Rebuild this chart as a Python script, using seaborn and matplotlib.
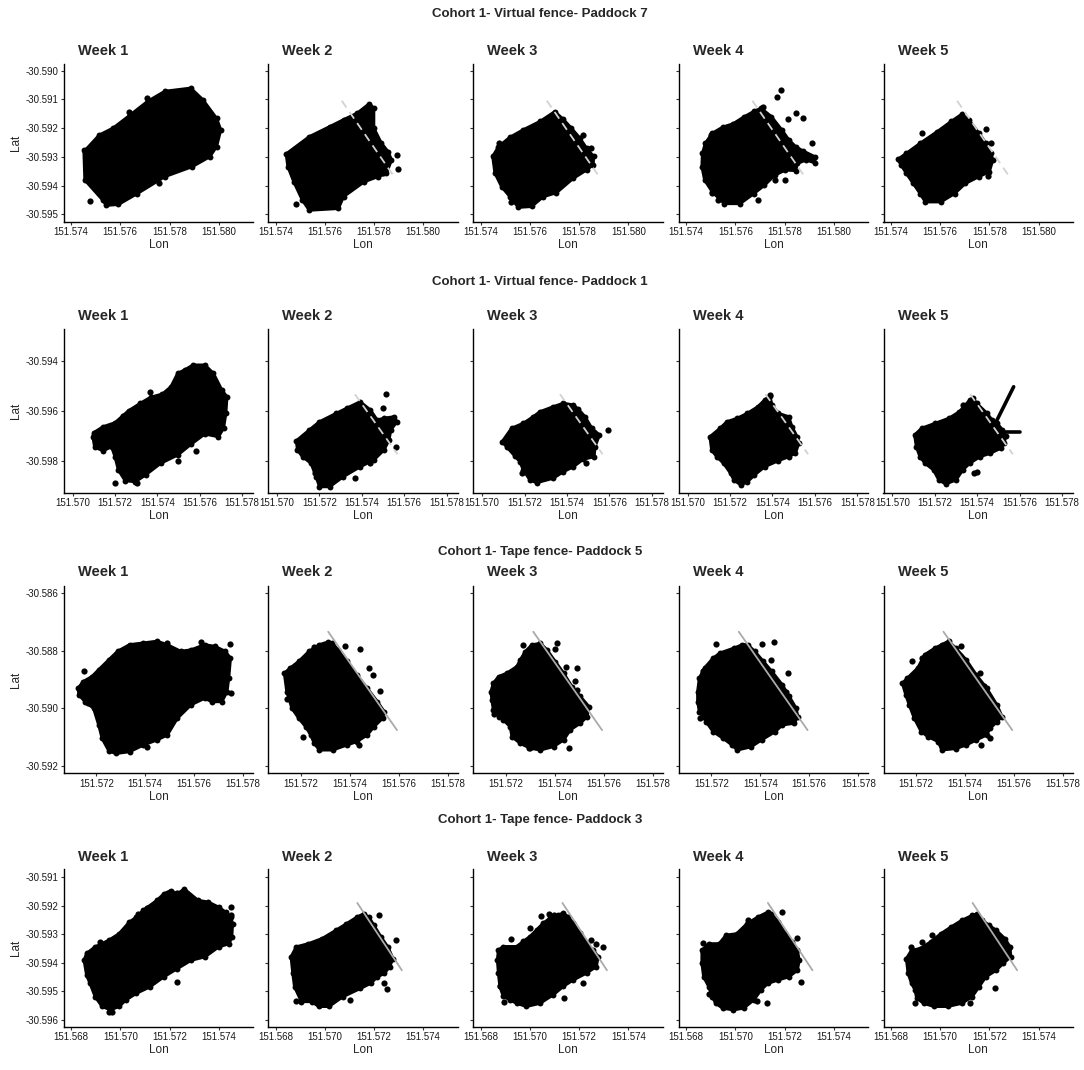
import matplotlib
matplotlib.use('Agg')
import matplotlib.pyplot as plt
import seaborn as sns
import pandas as pd

# ── Data: outline of each GPS point cloud (lon, lat), stray fixes and fence lines ──

# Virtual fence - Paddock 7
p7_w1 = [(151.57452, -30.59276), (151.57456, -30.59381), (151.57529, -30.59451), (151.57543, -30.59469),
         (151.57592, -30.59466), (151.57669, -30.59428), (151.57781, -30.59369), (151.57893, -30.59334),
         (151.57963, -30.59300), (151.57991, -30.59265), (151.58008, -30.59206), (151.57991, -30.59166),
         (151.57935, -30.59101), (151.57886, -30.59061), (151.57781, -30.59072), (151.57711, -30.59107),
         (151.57641, -30.59154), (151.57571, -30.59200), (151.57515, -30.59224), (151.57459, -30.59276)]
p7_w1_strays = [(151.57476, -30.59453), (151.57756, -30.59390), (151.57946, -30.59155),
                (151.57708, -30.59097), (151.57634, -30.59145)]
p7_w2 = [(151.57443, -30.59290), (151.57537, -30.59230), (151.57620, -30.59195), (151.57676, -30.59171),
         (151.57732, -30.59148), (151.57781, -30.59115), (151.57799, -30.59131), (151.57799, -30.59200),
         (151.57830, -30.59253), (151.57857, -30.59282), (151.57871, -30.59311), (151.57850, -30.59358),
         (151.57816, -30.59369), (151.57760, -30.59387), (151.57676, -30.59439), (151.57655, -30.59480),
         (151.57537, -30.59486), (151.57509, -30.59451), (151.57474, -30.59387), (151.57450, -30.59334)]
p7_w2_strays = [(151.57484, -30.59463), (151.57892, -30.59294), (151.57899, -30.59344), (151.57837, -30.59358)]
p7_w3 = [(151.57449, -30.59299), (151.57458, -30.59357), (151.57485, -30.59404), (151.57519, -30.59439),
         (151.57553, -30.59476), (151.57607, -30.59473), (151.57654, -30.59439), (151.57708, -30.59425),
         (151.57776, -30.59375), (151.57830, -30.59346), (151.57857, -30.59328), (151.57859, -30.59299),
         (151.57830, -30.59270), (151.57803, -30.59235), (151.57769, -30.59201), (151.57735, -30.59169),
         (151.57701, -30.59143), (151.57641, -30.59177), (151.57573, -30.59206), (151.57519, -30.59232),
         (151.57472, -30.59265)]
p7_w3_strays = [(151.57476, -30.59253), (151.57522, -30.59456), (151.57816, -30.59223),
                (151.57850, -30.59270), (151.57492, -30.59386)]
p7_w4 = [(151.57466, -30.59288), (151.57464, -30.59334), (151.57475, -30.59381), (151.57506, -30.59422),
         (151.57555, -30.59463), (151.57619, -30.59463), (151.57675, -30.59428), (151.57718, -30.59399),
         (151.57760, -30.59364), (151.57803, -30.59346), (151.57845, -30.59348), (151.57852, -30.59323),
         (151.57887, -30.59311), (151.57923, -30.59321), (151.57923, -30.59300), (151.57873, -30.59279),
         (151.57845, -30.59265), (151.57817, -30.59241), (151.57788, -30.59206), (151.57746, -30.59160),
         (151.57704, -30.59131), (151.57675, -30.59142), (151.57633, -30.59162), (151.57591, -30.59185),
         (151.57548, -30.59197), (151.57506, -30.59218), (151.57478, -30.59253)]
p7_w4_strays = [(151.57784, -30.59069), (151.57767, -30.59092), (151.57711, -30.59125), (151.57845, -30.59148),
                (151.57876, -30.59166), (151.57814, -30.59169), (151.57911, -30.59251), (151.57690, -30.59449),
                (151.57531, -30.59451), (151.57506, -30.59425), (151.57499, -30.59224), (151.57803, -30.59381),
                (151.57760, -30.59381)]
p7_w5 = [(151.57428, -30.59309), (151.57463, -30.59288), (151.57519, -30.59253), (151.57589, -30.59212),
         (151.57645, -30.59177), (151.57688, -30.59152), (151.57716, -30.59171), (151.57758, -30.59218),
         (151.57786, -30.59253), (151.57807, -30.59288), (151.57814, -30.59311), (151.57800, -30.59352),
         (151.57758, -30.59369), (151.57702, -30.59393), (151.57659, -30.59428), (151.57603, -30.59457),
         (151.57540, -30.59457), (151.57519, -30.59428), (151.57491, -30.59393), (151.57463, -30.59358),
         (151.57442, -30.59329)]
p7_w5_strays = [(151.57526, -30.59218), (151.57786, -30.59204), (151.57807, -30.59251), (151.57793, -30.59366)]
p7_fence = [(151.57669, -30.59105), (151.57879, -30.59366)]

# Virtual fence - Paddock 1
p1_w1 = [(151.57096, -30.59703), (151.57104, -30.59745), (151.57144, -30.59759), (151.57184, -30.59743),
         (151.57200, -30.59783), (151.57216, -30.59836), (151.57248, -30.59879), (151.57296, -30.59883),
         (151.57344, -30.59856), (151.57416, -30.59809), (151.57496, -30.59776), (151.57560, -30.59732),
         (151.57624, -30.59692), (151.57688, -30.59703), (151.57712, -30.59669), (151.57723, -30.59609),
         (151.57728, -30.59543), (151.57704, -30.59516), (151.57664, -30.59449), (151.57624, -30.59416),
         (151.57568, -30.59416), (151.57528, -30.59436), (151.57496, -30.59449), (151.57464, -30.59503),
         (151.57424, -30.59532), (151.57368, -30.59545), (151.57320, -30.59569), (151.57264, -30.59599),
         (151.57200, -30.59647), (151.57144, -30.59663), (151.57099, -30.59687)]
p1_w1_strays = [(151.57363, -30.59523), (151.57240, -30.59620), (151.57202, -30.59889), (151.57304, -30.59887),
                (151.57496, -30.59800), (151.57581, -30.59761)]
p1_w2 = [(151.57091, -30.59719), (151.57152, -30.59676), (151.57200, -30.59643), (151.57280, -30.59609),
         (151.57328, -30.59589), (151.57392, -30.59563), (151.57440, -30.59596), (151.57472, -30.59636),
         (151.57504, -30.59629), (151.57552, -30.59623), (151.57565, -30.59643), (151.57536, -30.59676),
         (151.57528, -30.59716), (151.57504, -30.59756), (151.57456, -30.59796), (151.57392, -30.59823),
         (151.57312, -30.59863), (151.57248, -30.59903), (151.57200, -30.59903), (151.57184, -30.59863),
         (151.57160, -30.59809), (151.57120, -30.59783), (151.57096, -30.59756)]
p1_w2_strays = [(151.57512, -30.59532), (151.57501, -30.59589), (151.57560, -30.59743), (151.57440, -30.59809),
                (151.57368, -30.59869), (151.57179, -30.59847)]
p1_w3 = [(151.57094, -30.59723), (151.57139, -30.59669), (151.57194, -30.59649), (151.57241, -30.59623),
         (151.57272, -30.59603), (151.57335, -30.59583), (151.57383, -30.59569), (151.57430, -30.59576),
         (151.57454, -30.59593), (151.57485, -30.59623), (151.57517, -30.59669), (151.57553, -30.59696),
         (151.57532, -30.59743), (151.57528, -30.59783), (151.57477, -30.59793), (151.57430, -30.59823),
         (151.57383, -30.59843), (151.57335, -30.59869), (151.57257, -30.59887), (151.57225, -30.59876),
         (151.57194, -30.59836), (151.57178, -30.59803), (151.57154, -30.59780), (151.57115, -30.59743)]
p1_w3_strays = [(151.57595, -30.59676), (151.57488, -30.59809), (151.57189, -30.59849)]
p1_w4 = [(151.57105, -30.59703), (151.57153, -30.59669), (151.57185, -30.59643), (151.57234, -30.59629),
         (151.57282, -30.59609), (151.57331, -30.59583), (151.57363, -30.59556), (151.57387, -30.59540),
         (151.57398, -30.59576), (151.57427, -30.59609), (151.57476, -30.59623), (151.57492, -30.59663),
         (151.57516, -30.59703), (151.57524, -30.59729), (151.57508, -30.59769), (151.57476, -30.59783),
         (151.57427, -30.59799), (151.57363, -30.59823), (151.57315, -30.59856), (151.57282, -30.59883),
         (151.57250, -30.59896), (151.57218, -30.59876), (151.57202, -30.59849), (151.57169, -30.59809),
         (151.57137, -30.59783), (151.57113, -30.59756)]
p1_w4_strays = [(151.57387, -30.59535)]
p1_w5 = [(151.57105, -30.59696), (151.57138, -30.59669), (151.57203, -30.59649), (151.57267, -30.59629),
         (151.57316, -30.59603), (151.57365, -30.59556), (151.57381, -30.59549), (151.57397, -30.59569),
         (151.57446, -30.59609), (151.57470, -30.59636), (151.57494, -30.59649), (151.57519, -30.59676),
         (151.57535, -30.59700), (151.57527, -30.59729), (151.57511, -30.59749), (151.57462, -30.59769),
         (151.57413, -30.59783), (151.57365, -30.59809), (151.57332, -30.59836), (151.57300, -30.59876),
         (151.57251, -30.59892), (151.57219, -30.59876), (151.57194, -30.59836), (151.57154, -30.59809),
         (151.57130, -30.59783), (151.57113, -30.59743)]
p1_w5_strays = [(151.57332, -30.59576), (151.57400, -30.59845), (151.57385, -30.59850)]
p1_w5_tracks = [[(151.57486, -30.59649), (151.57572, -30.59503)],
                [(151.57519, -30.59683), (151.57600, -30.59683)]]
p1_fence = [(151.57367, -30.59533), (151.57568, -30.59773)]

# Tape fence - Paddock 5
p5_w1 = [(151.57126, -30.58930), (151.57147, -30.58907), (151.57182, -30.58890), (151.57210, -30.58866),
         (151.57252, -30.58831), (151.57287, -30.58802), (151.57336, -30.58779), (151.57392, -30.58773),
         (151.57448, -30.58767), (151.57490, -30.58779), (151.57545, -30.58802), (151.57587, -30.58797),
         (151.57643, -30.58779), (151.57685, -30.58785), (151.57727, -30.58802), (151.57748, -30.58826),
         (151.57741, -30.58895), (151.57734, -30.58942), (151.57713, -30.58977), (151.57671, -30.58977),
         (151.57643, -30.58965), (151.57587, -30.58988), (151.57531, -30.59035), (151.57490, -30.59093),
         (151.57448, -30.59110), (151.57392, -30.59128), (151.57336, -30.59151), (151.57280, -30.59157),
         (151.57252, -30.59149), (151.57224, -30.59105), (151.57210, -30.59058), (151.57189, -30.59000),
         (151.57154, -30.58977), (151.57129, -30.58953)]
p5_w1_strays = [(151.57151, -30.58872), (151.57165, -30.58983), (151.57487, -30.58773), (151.57627, -30.58771),
                (151.57748, -30.58777), (151.57750, -30.58948), (151.57408, -30.59134)]
p5_w2 = [(151.57133, -30.58878), (151.57157, -30.58860), (151.57192, -30.58837), (151.57234, -30.58802),
         (151.57276, -30.58779), (151.57310, -30.58770), (151.57329, -30.58773), (151.57352, -30.58797),
         (151.57387, -30.58837), (151.57429, -30.58884), (151.57471, -30.58930), (151.57513, -30.58977),
         (151.57541, -30.59012), (151.57534, -30.59035), (151.57499, -30.59064), (151.57471, -30.59093),
         (151.57429, -30.59116), (151.57387, -30.59128), (151.57331, -30.59145), (151.57276, -30.59145),
         (151.57255, -30.59122), (151.57241, -30.59093), (151.57220, -30.59064), (151.57192, -30.59035),
         (151.57164, -30.59000), (151.57143, -30.58942)]
p5_w2_strays = [(151.57143, -30.58967), (151.57208, -30.59099), (151.57380, -30.58785), (151.57441, -30.58793),
                (151.57478, -30.58860), (151.57497, -30.58886), (151.57524, -30.58940), (151.57436, -30.59126),
                (151.57255, -30.58788)]
p5_w3 = [(151.57139, -30.58942), (151.57149, -30.58913), (151.57170, -30.58890), (151.57204, -30.58878),
         (151.57245, -30.58855), (151.57259, -30.58832), (151.57279, -30.58803), (151.57306, -30.58780),
         (151.57341, -30.58774), (151.57368, -30.58797), (151.57402, -30.58838), (151.57436, -30.58878),
         (151.57470, -30.58925), (151.57504, -30.58959), (151.57539, -30.58994), (151.57532, -30.59029),
         (151.57504, -30.59052), (151.57463, -30.59075), (151.57436, -30.59110), (151.57395, -30.59133),
         (151.57341, -30.59145), (151.57300, -30.59139), (151.57259, -30.59122), (151.57225, -30.59099),
         (151.57218, -30.59064), (151.57190, -30.59041), (151.57170, -30.59029), (151.57149, -30.59006),
         (151.57143, -30.58971)]
p5_w3_strays = [(151.57152, -30.59020), (151.57409, -30.58774), (151.57402, -30.58795), (151.57447, -30.58855),
                (151.57491, -30.58861), (151.57484, -30.58904), (151.57491, -30.58936), (151.57457, -30.59139),
                (151.57293, -30.59139), (151.57272, -30.58780)]
p5_w4 = [(151.57144, -30.58942), (151.57151, -30.58895), (151.57172, -30.58860), (151.57207, -30.58826),
         (151.57235, -30.58808), (151.57292, -30.58791), (151.57327, -30.58779), (151.57348, -30.58779),
         (151.57377, -30.58802), (151.57412, -30.58837), (151.57447, -30.58872), (151.57490, -30.58919),
         (151.57518, -30.58959), (151.57546, -30.59000), (151.57553, -30.59029), (151.57539, -30.59052),
         (151.57490, -30.59058), (151.57461, -30.59081), (151.57405, -30.59110), (151.57362, -30.59134),
         (151.57306, -30.59145), (151.57285, -30.59128), (151.57249, -30.59105), (151.57207, -30.59081),
         (151.57179, -30.59047), (151.57151, -30.59012), (151.57144, -30.58977)]
p5_w4_strays = [(151.57217, -30.58776), (151.57405, -30.58777), (151.57457, -30.58770), (151.57444, -30.58831),
                (151.57511, -30.58878), (151.57506, -30.58942), (151.57518, -30.58977), (151.57165, -30.58870),
                (151.57153, -30.59035)]
p5_w5 = [(151.57144, -30.58913), (151.57165, -30.58895), (151.57207, -30.58860), (151.57235, -30.58814),
         (151.57277, -30.58791), (151.57305, -30.58779), (151.57333, -30.58767), (151.57362, -30.58791),
         (151.57404, -30.58831), (151.57446, -30.58884), (151.57488, -30.58930), (151.57530, -30.58988),
         (151.57551, -30.59029), (151.57530, -30.59047), (151.57502, -30.59070), (151.57488, -30.59093),
         (151.57446, -30.59110), (151.57404, -30.59128), (151.57362, -30.59140), (151.57305, -30.59145),
         (151.57291, -30.59116), (151.57249, -30.59099), (151.57221, -30.59081), (151.57193, -30.59035),
         (151.57172, -30.58988), (151.57158, -30.58953)]
p5_w5_strays = [(151.57183, -30.58835), (151.57225, -30.58826), (151.57383, -30.58785), (151.57460, -30.58876),
                (151.57478, -30.58921), (151.57467, -30.59128), (151.57502, -30.59102)]
p5_fence = [(151.57312, -30.58734), (151.57593, -30.59076)]

# Tape fence - Paddock 3
p3_w1 = [(151.56853, -30.59391), (151.56863, -30.59367), (151.56898, -30.59344), (151.56953, -30.59321),
         (151.56995, -30.59298), (151.57037, -30.59257), (151.57065, -30.59240), (151.57093, -30.59216),
         (151.57149, -30.59181), (151.57177, -30.59158), (151.57204, -30.59147), (151.57232, -30.59158),
         (151.57260, -30.59141), (151.57316, -30.59181), (151.57358, -30.59187), (151.57400, -30.59205),
         (151.57428, -30.59222), (151.57449, -30.59240), (151.57456, -30.59263), (151.57453, -30.59309),
         (151.57442, -30.59333), (151.57400, -30.59344), (151.57344, -30.59379), (151.57288, -30.59391),
         (151.57232, -30.59420), (151.57177, -30.59449), (151.57121, -30.59484), (151.57065, -30.59507),
         (151.57023, -30.59530), (151.56995, -30.59553), (151.56960, -30.59565), (151.56926, -30.59553),
         (151.56898, -30.59519), (151.56877, -30.59472), (151.56863, -30.59443)]
p3_w1_strays = [(151.56916, -30.59327), (151.57072, -30.59228), (151.57110, -30.59207), (151.57232, -30.59156),
                (151.57449, -30.59205), (151.57449, -30.59231), (151.57232, -30.59466), (151.56967, -30.59573),
                (151.56956, -30.59571)]
p3_w2 = [(151.56863, -30.59379), (151.56884, -30.59344), (151.56933, -30.59333), (151.56989, -30.59315),
         (151.57045, -30.59286), (151.57088, -30.59263), (151.57130, -30.59240), (151.57158, -30.59228),
         (151.57179, -30.59240), (151.57200, -30.59269), (151.57228, -30.59309), (151.57256, -30.59344),
         (151.57277, -30.59385), (151.57263, -30.59414), (151.57242, -30.59437), (151.57214, -30.59449),
         (151.57186, -30.59472), (151.57144, -30.59490), (151.57073, -30.59519), (151.57017, -30.59553),
         (151.56975, -30.59553), (151.56947, -30.59536), (151.56905, -30.59536), (151.56877, -30.59484),
         (151.56870, -30.59437)]
p3_w2_strays = [(151.56884, -30.59533), (151.56905, -30.59533), (151.57221, -30.59234), (151.57291, -30.59321),
                (151.57242, -30.59472), (151.57253, -30.59492), (151.57102, -30.59530)]
p3_w3 = [(151.56872, -30.59355), (151.56892, -30.59343), (151.56946, -30.59343), (151.56973, -30.59325),
         (151.57000, -30.59308), (151.57027, -30.59285), (151.57054, -30.59261), (151.57081, -30.59244),
         (151.57115, -30.59232), (151.57135, -30.59226), (151.57155, -30.59238), (151.57176, -30.59261),
         (151.57203, -30.59296), (151.57230, -30.59331), (151.57257, -30.59355), (151.57277, -30.59378),
         (151.57270, -30.59413), (151.57230, -30.59436), (151.57176, -30.59460), (151.57135, -30.59483),
         (151.57095, -30.59512), (151.57041, -30.59542), (151.56986, -30.59553), (151.56946, -30.59542),
         (151.56919, -30.59530), (151.56892, -30.59518), (151.56878, -30.59483), (151.56872, -30.59436),
         (151.56868, -30.59390)]
p3_w3_strays = [(151.56923, -30.59316), (151.57000, -30.59279), (151.57047, -30.59236), (151.57077, -30.59229),
                (151.57099, -30.59232), (151.57250, -30.59320), (151.57270, -30.59334), (151.57295, -30.59345),
                (151.57216, -30.59469), (151.57139, -30.59525), (151.56878, -30.59480), (151.56895, -30.59539)]
p3_w4 = [(151.56864, -30.59356), (151.56892, -30.59333), (151.56934, -30.59333), (151.56962, -30.59303),
         (151.57005, -30.59298), (151.57047, -30.59263), (151.57090, -30.59240), (151.57132, -30.59222),
         (151.57146, -30.59228), (151.57174, -30.59257), (151.57203, -30.59298), (151.57231, -30.59327),
         (151.57252, -30.59356), (151.57259, -30.59391), (151.57252, -30.59426), (151.57217, -30.59449),
         (151.57174, -30.59460), (151.57132, -30.59472), (151.57104, -30.59495), (151.57075, -30.59530),
         (151.57033, -30.59559), (151.56991, -30.59565), (151.56948, -30.59559), (151.56920, -30.59542),
         (151.56906, -30.59519), (151.56892, -30.59484), (151.56871, -30.59449), (151.56864, -30.59402)]
p3_w4_strays = [(151.56868, -30.59329), (151.56917, -30.59342), (151.57051, -30.59249), (151.57191, -30.59220),
                (151.57249, -30.59312), (151.57266, -30.59466), (151.57087, -30.59533), (151.57128, -30.59542),
                (151.56892, -30.59509)]
p3_w5 = [(151.56863, -30.59385), (151.56884, -30.59356), (151.56919, -30.59350), (151.56961, -30.59327),
         (151.57003, -30.59298), (151.57045, -30.59274), (151.57088, -30.59251), (151.57130, -30.59234),
         (151.57151, -30.59228), (151.57172, -30.59251), (151.57200, -30.59269), (151.57228, -30.59286),
         (151.57263, -30.59315), (151.57284, -30.59344), (151.57287, -30.59379), (151.57256, -30.59402),
         (151.57228, -30.59426), (151.57186, -30.59449), (151.57158, -30.59484), (151.57130, -30.59519),
         (151.57088, -30.59542), (151.57031, -30.59553), (151.56975, -30.59553), (151.56933, -30.59542),
         (151.56905, -30.59524), (151.56898, -30.59495), (151.56884, -30.59472), (151.56870, -30.59437)]
p3_w5_strays = [(151.56880, -30.59344), (151.56926, -30.59327), (151.56966, -30.59303), (151.57267, -30.59356),
                (151.57225, -30.59490), (151.56898, -30.59540), (151.57123, -30.59542)]
p3_fence = [(151.57132, -30.59190), (151.57313, -30.59426)]

row_titles = ['Cohort 1- Virtual fence- Paddock 7', 'Cohort 1- Virtual fence- Paddock 1',
              'Cohort 1- Tape fence- Paddock 5', 'Cohort 1- Tape fence- Paddock 3']
week_labels = ['Week 1', 'Week 2', 'Week 3', 'Week 4', 'Week 5']
row_xticks = [[151.574, 151.576, 151.578, 151.580],
              [151.570, 151.572, 151.574, 151.576, 151.578],
              [151.572, 151.574, 151.576, 151.578],
              [151.568, 151.570, 151.572, 151.574]]
row_yticks = [[-30.590, -30.591, -30.592, -30.593, -30.594, -30.595],
              [-30.594, -30.596, -30.598],
              [-30.586, -30.588, -30.590, -30.592],
              [-30.591, -30.592, -30.593, -30.594, -30.595, -30.596]]
row_xlim = [(151.5737, 151.5814), (151.56958, 151.57852), (151.57067, 151.57841), (151.5677, 151.5754)]
row_ylim = [(-30.59526, -30.58978), (-30.59927, -30.59273), (-30.59225, -30.58575), (-30.59624, -30.59072)]

outlines = [[p7_w1, p7_w2, p7_w3, p7_w4, p7_w5],
            [p1_w1, p1_w2, p1_w3, p1_w4, p1_w5],
            [p5_w1, p5_w2, p5_w3, p5_w4, p5_w5],
            [p3_w1, p3_w2, p3_w3, p3_w4, p3_w5]]
strays = [[p7_w1_strays, p7_w2_strays, p7_w3_strays, p7_w4_strays, p7_w5_strays],
          [p1_w1_strays, p1_w2_strays, p1_w3_strays, p1_w4_strays, p1_w5_strays],
          [p5_w1_strays, p5_w2_strays, p5_w3_strays, p5_w4_strays, p5_w5_strays],
          [p3_w1_strays, p3_w2_strays, p3_w3_strays, p3_w4_strays, p3_w5_strays]]
fences = [p7_fence, p1_fence, p5_fence, p3_fence]
fence_virtual = [True, True, False, False]

# ── Layout (pixels) ──
W, H = 1084, 1070
col_left = [63.7, 268.2, 473.3, 678.8, 883.5]
ax_w = 189.5
row_top = [64.3, 329.3, 586.0, 869.3]
row_bot = [221.7, 492.7, 773.0, 1026.7]
row_title_y = [14, 282, 552, 820]
week_title_y = [50.7, 316.0, 571.7, 856.7]

sns.set_style('ticks')
plt.rcParams['font.family'] = ['Liberation Sans', 'DejaVu Sans']

fig = plt.figure(figsize=(W / 100, H / 100), dpi=100)

for r in range(4):
    fig.text(540 / W, 1 - row_title_y[r] / H, row_titles[r], ha='center', va='center',
             fontsize=9.5, fontweight='bold')
    for c in range(5):
        left, top, bot = col_left[c], row_top[r], row_bot[r]
        ax = fig.add_axes([left / W, 1 - bot / H, ax_w / W, (bot - top) / H])

        poly = pd.DataFrame(outlines[r][c], columns=['Lon', 'Lat'])
        ax.fill(poly['Lon'], poly['Lat'], color='black', lw=2.2, joinstyle='round', zorder=2)
        sns.scatterplot(data=poly, x='Lon', y='Lat', ax=ax, color='black', s=18,
                        linewidth=0, legend=False, zorder=2)
        pts = pd.DataFrame(strays[r][c], columns=['Lon', 'Lat'])
        sns.scatterplot(data=pts, x='Lon', y='Lat', ax=ax, color='black', s=20,
                        linewidth=0, legend=False, zorder=2)
        if r == 1 and c == 4:
            for tr in p1_w5_tracks:
                t = pd.DataFrame(tr, columns=['Lon', 'Lat'])
                ax.plot(t['Lon'], t['Lat'], color='black', lw=2.6, solid_capstyle='round', zorder=2)

        if c > 0:
            f = pd.DataFrame(fences[r], columns=['Lon', 'Lat'])
            if fence_virtual[r]:
                ax.plot(f['Lon'], f['Lat'], color='#d2d2d2', lw=1.3, ls=(0, (4.5, 3)), zorder=3)
            else:
                ax.plot(f['Lon'], f['Lat'], color='#aaaaaa', lw=1.3, zorder=3)

        ax.set_xlim(*row_xlim[r])
        ax.set_ylim(*row_ylim[r])
        ax.set_xticks(row_xticks[r])
        ax.set_xticklabels([f'{v:.3f}' for v in row_xticks[r]])
        ax.set_yticks(row_yticks[r])
        if c == 0:
            ax.set_yticklabels([f'{v:.3f}' for v in row_yticks[r]])
            ax.set_ylabel('Lat', fontsize=8.5, labelpad=2)
        else:
            ax.set_yticklabels([])
            ax.set_ylabel('')
        ax.set_xlabel('Lon', fontsize=8.5, labelpad=1.5)
        ax.tick_params(axis='both', labelsize=7, length=2.5, width=0.8, pad=1.5,
                       color='#333333', labelcolor='#1a1a1a')
        sns.despine(ax=ax)
        for s in ['left', 'bottom']:
            ax.spines[s].set_linewidth(1.0)
            ax.spines[s].set_color('black')
        ax.grid(False)

        fig.text((left + 14) / W, 1 - week_title_y[r] / H, week_labels[c], ha='left', va='center',
                 fontsize=10.5, fontweight='bold')

fig.savefig('out.png', dpi=100)
